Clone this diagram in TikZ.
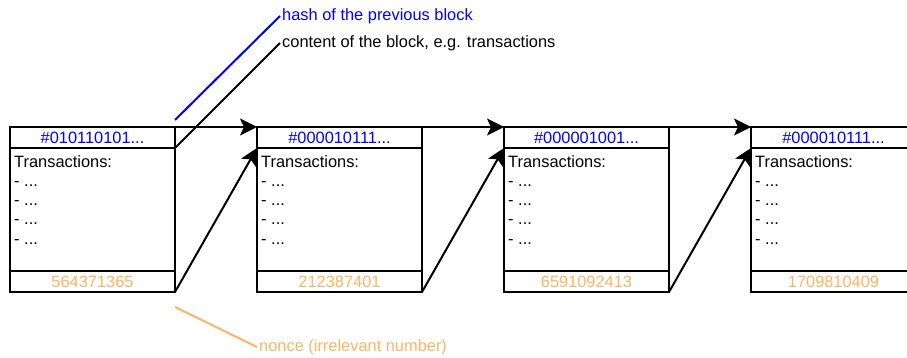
\documentclass[tikz,border=0pt]{standalone}
\usepackage{fontspec}
\setmainfont{Liberation Sans}
\usetikzlibrary{arrows.meta,calc}
\definecolor{hashblue}{RGB}{0,0,255}
\definecolor{nonceorange}{HTML}{FFB366}
\tikzset{
  cell/.style={draw, line width=2pt, minimum width=165pt, inner sep=0pt,
    outer sep=0pt, anchor=north west},
  hashcell/.style={cell, minimum height=21pt, text=hashblue},
  bodycell/.style={cell, minimum height=123pt},
  noncecell/.style={cell, minimum height=21pt, text=nonceorange},
  txlist/.style={anchor=north west, align=left, inner sep=0pt},
  link/.style={line width=2pt, -{Stealth[length=17pt, width=17pt, inset=4pt]}},
  note/.style={anchor=west, inner sep=2pt},
  noteline/.style={line width=2pt},
}
\begin{document}
\begin{tikzpicture}[x=1pt, y=-1pt, font=\fontsize{16.4}{19.3}\selectfont]
\useasboundingbox (0,0) rectangle (907,358);
\clip (0,0) rectangle (907,358);

% the four blocks of the chain: hash, transactions, nonce
\foreach \i/\x/\hash/\nonce in {
    1/10/{\#010110101...}/564371365,
    2/257/{\#000010111...}/212387401,
    3/504/{\#000001001...}/6591092413,
    4/751/{\#000010111...}/1709810409} {
  \node[hashcell]  (h\i) at (\x,127) {\hash};
  \node[bodycell]  (b\i) at (\x,148) {};
  \node[noncecell] (n\i) at (\x,271) {\nonce};
  \node[txlist] (t\i) at ($(b\i.north west)+(4,7)$)
    {Transactions:\\- ...\\- ...\\- ...\\- ...};
}

% links: previous hash and previous block content
\foreach \i/\j in {1/2, 2/3, 3/4} {
  \draw[link] (h\i.north east) -- (h\j.north west);
  \draw[link] (n\i.south east) -- (b\j.north west);
}

% annotations
\node[note, text=hashblue] (lhash) at (280,16) {hash of the previous block};
\node[note] (lcontent) at (280,43) {content of the block, e.g. transactions};
\node[note, text=nonceorange] (lnonce) at (257,347) {nonce (irrelevant number)};

\coordinate (hashtip) at ($(h1.north east)+(0,-7)$);
\coordinate (noncetip) at ($(n1.south east)+(0,15)$);

\draw[noteline, hashblue] (hashtip) -- (lhash.west);
\draw[noteline] (h1.south east) -- (lcontent.west);
\draw[noteline, nonceorange] (noncetip) -- (lnonce.west);
\end{tikzpicture}
\end{document}
